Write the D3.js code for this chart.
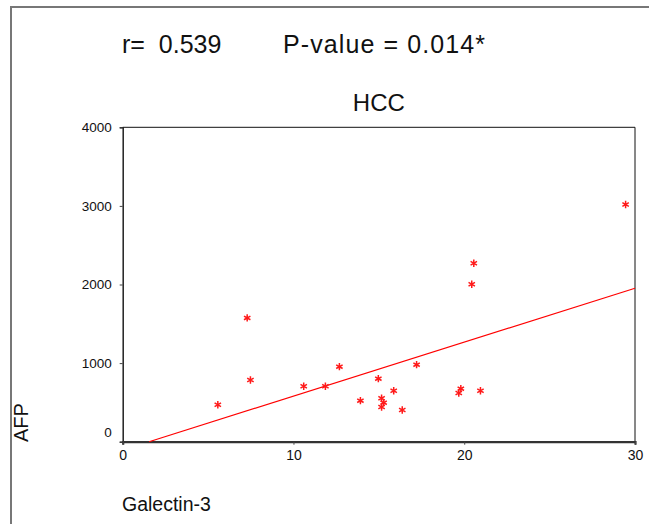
<!DOCTYPE html>
<html>
<head>
<meta charset="utf-8">
<script src="https://cdn.jsdelivr.net/npm/d3@7"></script>
<style>
  body { margin: 0; background: #fff; }
  svg { display: block; font-family: Arial, "Liberation Sans", sans-serif; }
  text { white-space: pre; }
</style>
</head>
<body>
<div id="chart"></div>
<script>
// Galectin-3 vs AFP, HCC group
const galectin = [5.57, 7.29, 7.48, 10.6, 11.87, 12.69, 13.92, 14.97, 15.16, 15.28,
  15.16, 15.87, 16.37, 17.21, 19.68, 19.8, 20.95, 20.56, 20.44, 29.45]
const afp = [471, 1575, 785, 705, 705, 955, 522, 802, 552, 497,
  442, 649, 404, 980, 620, 675, 649, 2271, 2004, 3017]
const xTicks = [0, 10, 20, 30]
const yTicks = [0, 1000, 2000, 3000, 4000]
// fitted line (intercept, slope) as drawn in the reference
const fit = [-106, 68.6]
const statsText = ['r=  0.539', 'P-value = 0.014*']

const width = 649
const height = 524
const plot = { left: 122.7, right: 635, top: 127.3, bottom: 441.7 }

const svg = d3.select('#chart').append('svg')
  .attr('width', width)
  .attr('height', height)

// outer frame (top + left edges only)
svg.append('path')
  .attr('d', `M11,${height} L11,7 L${width},7`)
  .attr('fill', 'none')
  .attr('stroke', '#777')
  .attr('stroke-width', 2)

const xScale = d3.scaleLinear().domain([0, 30]).range([plot.left, plot.right])
const yScale = d3.scaleLinear().domain([0, 4000]).range([plot.bottom, plot.top])

// plot box: thin top/right
svg.append('path')
  .attr('d', `M${plot.left},${plot.top} L${plot.right},${plot.top} L${plot.right},${plot.bottom}`)
  .attr('fill', 'none')
  .attr('stroke', '#111')
  .attr('stroke-width', 1)

const yAxis = svg.append('g')
  .attr('transform', `translate(${plot.left},0)`)
  .call(d3.axisLeft(yScale).tickValues(yTicks).tickSize(3).tickPadding(8).tickFormat(d3.format('d')))
yAxis.select('.domain').attr('stroke', '#222').attr('stroke-width', 1.5)
yAxis.selectAll('.tick line').attr('stroke', '#444')
yAxis.selectAll('text')
  .attr('font-size', 13.5)
  .attr('fill', '#111')
  .attr('font-family', 'Arial, "Liberation Sans", sans-serif')
  .attr('dy', d => d === 0 ? '-0.4em' : '0.32em')

const xAxis = svg.append('g')
  .attr('transform', `translate(0,${plot.bottom})`)
  .call(d3.axisBottom(xScale).tickValues(xTicks).tickSize(3).tickPadding(5))
xAxis.select('.domain').attr('stroke', '#333').attr('stroke-width', 2.2)
xAxis.selectAll('.tick line').attr('stroke', '#444')
xAxis.selectAll('text')
  .attr('font-size', 14)
  .attr('fill', '#111')
  .attr('font-family', 'Arial, "Liberation Sans", sans-serif')

// regression line, from y = 0 up to the right edge
const x0 = -fit[0] / fit[1]
const x1 = 30
svg.append('line')
  .attr('x1', xScale(x0))
  .attr('y1', yScale(fit[0] + fit[1] * x0))
  .attr('x2', xScale(x1))
  .attr('y2', yScale(fit[0] + fit[1] * x1))
  .attr('stroke', '#ff0000')
  .attr('stroke-width', 1.2)

// asterisk markers
const s = 3.7
const star = `M0,${-s}L0,${s}M${-s * 0.87},${-s / 2}L${s * 0.87},${s / 2}M${-s * 0.87},${s / 2}L${s * 0.87},${-s / 2}`
svg.append('g').selectAll('path')
  .data(galectin.map((g, i) => [g, afp[i]]))
  .enter().append('path')
  .attr('transform', d => `translate(${xScale(d[0])},${yScale(d[1])})`)
  .attr('d', star)
  .attr('stroke', '#ff1a1a')
  .attr('stroke-width', 1.5)
  .attr('fill', 'none')

// texts
svg.append('text')
  .attr('x', 122).attr('y', 53)
  .attr('font-size', 25)
  .attr('fill', '#111')
  .text(statsText[0])
svg.append('text')
  .attr('x', 283).attr('y', 53)
  .attr('font-size', 25)
  .attr('fill', '#111')
  .attr('textLength', 202)
  .attr('lengthAdjust', 'spacing')
  .text(statsText[1])
svg.append('text')
  .attr('x', (plot.left + plot.right) / 2).attr('y', 110.5)
  .attr('text-anchor', 'middle')
  .attr('font-size', 24)
  .attr('fill', '#111')
  .text('HCC')
svg.append('text')
  .attr('x', 122).attr('y', 510.5)
  .attr('font-size', 19.5)
  .attr('fill', '#111')
  .text('Galectin-3')
svg.append('text')
  .attr('transform', 'translate(28,442) rotate(-90)')
  .attr('font-size', 20)
  .attr('fill', '#111')
  .text('AFP')
</script>
</body>
</html>
